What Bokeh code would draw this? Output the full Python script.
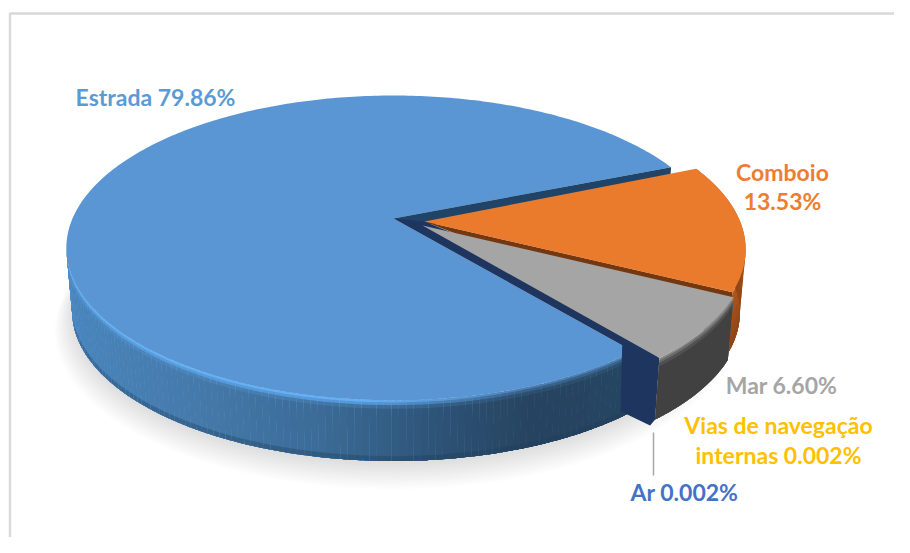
import numpy as np
from bokeh.plotting import figure
from bokeh.models import Range1d, ColumnDataSource
from bokeh.core.properties import value
from bokeh.embed import file_html
from bokeh.resources import INLINE

# ---- data ----
categories = ["Estrada", "Comboio", "Mar", "Vias de navegação internas", "Ar"]
shares = [79.86, 13.53, 6.60, 0.002, 0.002]
label_lines = [["Estrada 79.86%"], ["Comboio", "13.53%"], ["Mar 6.60%"],
               ["Vias de navegação", "internas 0.002%"], ["Ar 0.002%"]]
label_colors = ["#5b9bd5", "#ed7d31", "#a5a5a5", "#ffc000", "#4472c4"]

# ---- layout of the projected pie (screen pixels) ----
W, H = 894, 537
CX, CY, R, KR, P, DEPTH = 393.0, 218.0, 321.0, 146.7, 0.193, 64.0
START = 50.5
OFF = {"Estrada": (0, 0), "Comboio": (25, 1.5), "Mar": (26, 6.5)}
TIP = {"Estrada": (0, 0), "Comboio": (6, 1.5), "Mar": (3, 0.5)}
SILHOUETTE = 180 - np.degrees(np.arcsin(P))
label_anchor = [[(155, 96)], [(782, 171), (782, 200)], [(781, 384)],
                [(778, 424), (778, 454)], [(684, 491)]]

total = sum(shares)
edges = START + np.concatenate([[0], np.cumsum(shares)]) * 360.0 / total
span = {c: (edges[i], edges[i + 1]) for i, c in enumerate(categories)}


def pt(t, r=1.0, z=0.0, off=(0, 0)):
    t = np.radians(t)
    u, v = r * np.cos(t), r * np.sin(t)
    f = 1.0 / (1.0 - P * v)
    s = 1.0 - 0.018 * z
    return (CX + off[0] + R * s * u * f, CY + off[1] + KR * s * v * f + DEPTH * z)


def hex2(c):
    return np.array([int(c[i:i + 2], 16) for i in (1, 3, 5)], float)


def mix(a, b, w):
    m = hex2(a) * (1 - w) + hex2(b) * w
    return "#%02x%02x%02x" % tuple(int(round(q)) for q in m)


xs_all, ys_all, col_all, alpha_all = [], [], [], []


def add(xs, ys, c, a=1.0):
    xs_all.append(list(map(float, xs)))
    ys_all.append(list(map(float, ys)))
    col_all.append(c)
    alpha_all.append(a)


def tip_of(name):
    ax, ay = pt(0, 0, 0, OFF[name])
    return ax + TIP[name][0], ay + TIP[name][1]


def wedge_xy(name, t0, t1, n=160):
    ts = np.linspace(t0, t1, n)
    x, y = pt(ts, 1.0, 0, OFF[name])
    ax, ay = tip_of(name)
    return np.r_[ax, x], np.r_[ay, y]


def wall(t0, t1, off, colorfn, n=60, zs=(0, .035, .08, .14, .25, .92)):
    ts = np.linspace(t0, t1, n + 1)
    step = ts[1] - ts[0]
    for a in ts[:-1]:
        b = min(a + 1.6 * step, t1)
        for k, z0 in enumerate(zs):
            z1 = zs[k + 1] if k + 1 < len(zs) else 1.0
            x0, y0 = pt(a, 1, z0, off)
            x1, y1 = pt(b, 1, z0, off)
            x2, y2 = pt(b, 1, 1.0, off)
            x3, y3 = pt(a, 1, 1.0, off)
            add([x0, x1, x2, x3], [y0, y1, y2, y3],
                colorfn(0.5 * (x0 + x1), 0.5 * (z0 + z1)))


def wall_flat(t0, t1, off, colorfn, zs):
    ts = np.linspace(t0, t1, 50)
    for k, z0 in enumerate(zs):
        z1 = zs[k + 1] if k + 1 < len(zs) else 1.0
        xa, ya = pt(ts, 1, z0, off)
        xb, yb = pt(ts, 1, 1.0, off)
        add(np.r_[xa, xb[::-1]], np.r_[ya, yb[::-1]], colorfn(0.5 * (z0 + z1)))


stops_x = [66, 200, 320, 450, 530, 640]
stops_c = ["#4a85bb", "#4579a9", "#3b6b96", "#2c5072", "#26445f", "#264560"]


def blue_base(x):
    x = np.clip(x, stops_x[0], stops_x[-1])
    i = min(np.searchsorted(stops_x, x, side="right") - 1, len(stops_x) - 2)
    return mix(stops_c[i], stops_c[i + 1], (x - stops_x[i]) / (stops_x[i + 1] - stops_x[i]))


def blue_color(x, z):
    base = blue_base(x)
    h = np.clip((520 - x) / 160.0, 0, 1)
    if z < 0.035:
        return mix(mix(base, "#5b97d5", 0.7), "#64b0f6", h)
    if z < 0.08:
        return mix(mix(base, "#5b97d5", 0.35), "#5aa0e2", h * 0.8)
    if z < 0.14:
        return mix(base, "#5b97d5", 0.12 + 0.15 * h)
    if z > 0.92:
        return mix(base, "#1d3a55", 0.35)
    return base


def gray_color(z):
    if z < 0.035:
        return "#8c8c8c"
    if z < 0.08:
        return "#6c6c6c"
    if z < 0.14:
        return "#515151"
    return "#414141"


def orange_color(z):
    if z < 0.06:
        return "#b65d1e"
    return mix("#b0561c", "#8c4414", min(z, 1))


# ---- soft shadow beneath the pie ----
ts_full = np.linspace(0, 360, 240)
for i in range(16):
    x, y = pt(ts_full, 1.0 + i * 0.0035, 1.0)
    add(x, y + 3 + i * 0.9, "#000000", 0.0085)

# ---- Estrada: outer wall, top ----
b0, b1 = span["Estrada"]
wall(b0, SILHOUETTE, OFF["Estrada"], blue_color, n=110)
x, y = wedge_xy("Estrada", b0, b1, n=320)
add(x, y, "#5a96d4")

# ---- Estrada: radial wall seen at its upper edge ----
ax, ay = tip_of("Estrada")
otipx, otipy = tip_of("Comboio")
ex, ey = pt(b1, 1.0, 0)
ex2, ey2 = pt(b1, 1.0, 0.6)
midox, midoy = pt(0.0, 0.4, 0, OFF["Comboio"])
add([ax, ex, ex2, midox, otipx], [ay, ey, ey2, midoy, otipy + 3], "#204468")

# ---- thin dark slices (Vias, Ar) between Mar and Estrada ----
gx, gy = pt(b0, 1.0, 0, OFF["Mar"])
gx2, gy2 = pt(b0, 1.0, 1.0, OFF["Mar"])
fx, fy = pt(b0, 0.96, 0)
fx2, fy2 = pt(b0 + 2.0, 1.0, 0.9)
midx, midy = pt(b0 - 12, 0.5, 0, OFF["Mar"])
add([ax, fx, fx2, gx2 - 5, gx2, gx, midx, otipx],
    [ay, fy, fy2, gy2 + 6, gy2, gy, midy, otipy], "#1e3560")

# ---- Comboio ----
c0, c1 = span["Comboio"]
wall_flat(c0, c1, OFF["Comboio"], orange_color, (0, .06, .2, .4, .6, .8))
ox, oy = pt(c1, 1.0, 0, OFF["Comboio"])
ox2, oy2 = pt(c1, 1.0, 0.75, OFF["Comboio"])
add([otipx, ox, ox2], [otipy, oy, oy2], "#743810")
x, y = wedge_xy("Comboio", c0, c1, n=80)
add(x, y, "#ea7b2d")

# ---- Mar ----
m0, m1 = span["Mar"]
wall_flat(m0, m1, OFF["Mar"], gray_color, (0, .035, .08, .14))
x, y = wedge_xy("Mar", m0, m1, n=50)
add(x, y, "#a5a5a5")

p = figure(width=W, height=H, x_range=Range1d(0, W), y_range=Range1d(H, 0),
           toolbar_location=None, output_backend="svg", min_border=0,
           background_fill_color="white", border_fill_color="white", outline_line_color=None)
p.axis.visible = False
p.grid.visible = False

src = ColumnDataSource(dict(xs=xs_all, ys=ys_all, c=col_all, a=alpha_all))
p.patches("xs", "ys", source=src, fill_color="c", fill_alpha="a", line_color=None)

# chart frame
p.line([9.5, 9.5, W], [H, 13, 13], line_color="#d9d9d9", line_width=2.5)

# leader line of the Ar label
p.line([653, 653], [432, 475], line_color="#a6a6a6", line_width=1.5)

for lines, anchors, col in zip(label_lines, label_anchor, label_colors):
    for txt, (tx_, ty_) in zip(lines, anchors):
        p.text([tx_], [ty_], text=[txt], text_color=col, text_font=value("Lato"),
               text_font_style="bold", text_font_size="23px",
               text_align="center", text_baseline="middle")

open("out.html", "w").write(file_html(p, INLINE))
